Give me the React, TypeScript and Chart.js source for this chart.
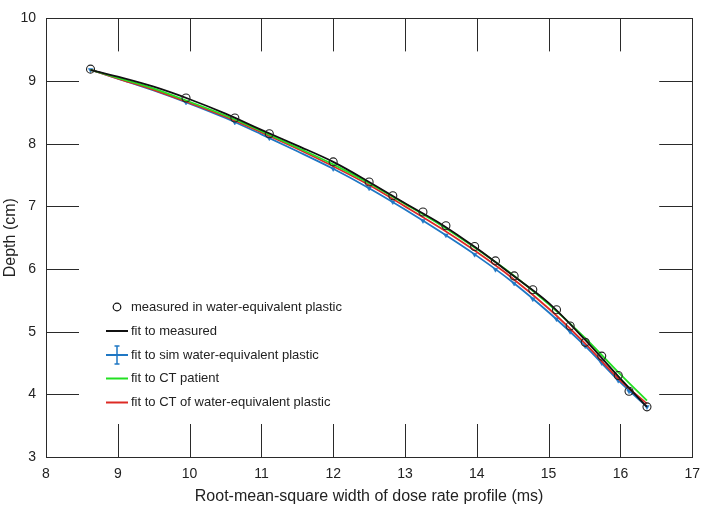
import React, { useEffect, useRef } from "react";
import { Chart, registerables } from "chart.js";

Chart.register(...registerables);

// Measured points (water-equivalent plastic)
const measuredX = [8.62, 9.95, 10.63, 11.11, 12.0, 12.5, 12.83, 13.25, 13.57, 13.97, 14.26, 14.52, 14.78, 15.11, 15.3, 15.51, 15.74, 15.97, 16.12, 16.37];
const measuredY = [9.19, 8.73, 8.41, 8.16, 7.71, 7.39, 7.17, 6.91, 6.69, 6.36, 6.13, 5.89, 5.67, 5.35, 5.09, 4.83, 4.61, 4.3, 4.05, 3.8];

// Fit curves sampled along x
const fitX = [8.62, 9, 9.5, 10, 10.5, 11, 11.5, 12, 12.5, 13, 13.5, 14, 14.5, 15, 15.5, 16, 16.37];
const fitMeasuredY = [9.18, 9.07, 8.91, 8.71, 8.48, 8.22, 7.97, 7.71, 7.39, 7.05, 6.72, 6.33, 5.9, 5.46, 4.88, 4.25, 3.8];
const fitSimY = [9.18, 9.04, 8.85, 8.64, 8.41, 8.15, 7.88, 7.6, 7.29, 6.95, 6.59, 6.21, 5.79, 5.31, 4.78, 4.19, 3.8];
const fitPatientY = [9.18, 9.05, 8.88, 8.67, 8.45, 8.2, 7.94, 7.67, 7.37, 7.04, 6.7, 6.32, 5.91, 5.44, 4.91, 4.32, 3.9];
const fitCtPlasticY = [9.18, 9.04, 8.86, 8.65, 8.43, 8.18, 7.92, 7.64, 7.34, 7.0, 6.65, 6.27, 5.85, 5.37, 4.82, 4.22, 3.85];

// Simulated markers (at measured widths)
const simMarkY = [9.18, 8.66, 8.34, 8.09, 7.6, 7.29, 7.07, 6.77, 6.54, 6.23, 5.99, 5.77, 5.52, 5.2, 5.0, 4.77, 4.5, 4.22, 4.05, 3.8];

const xTickValues = [8, 9, 10, 11, 12, 13, 14, 15, 16, 17];
const yTickValues = [3, 4, 5, 6, 7, 8, 9, 10];

const legendLabels = [
  "measured in water-equivalent plastic",
  "fit to measured",
  "fit to sim water-equivalent plastic",
  "fit to CT patient",
  "fit to CT of water-equivalent plastic",
];

const xTitle = "Root-mean-square width of dose rate profile (ms)";
const yTitle = "Depth (cm)";

const BLUE = "#1f77c4";
const GREEN = "#22e022";
const RED = "#dd2a24";
const BLACK = "#111111";
const FONT = "'Liberation Sans', Arial, Helvetica, sans-serif";

const pts = (xs: number[], ys: number[]) => xs.map((x, i) => ({ x, y: ys[i] }));

const framePlugin = {
  id: "frame",
  afterDraw(chart: any) {
    const { ctx, chartArea: a, scales } = chart;
    const xs = scales.x;
    const ys = scales.y;
    ctx.save();
    ctx.strokeStyle = "#2a2a2a";
    ctx.lineWidth = 1;
    // box
    ctx.strokeRect(Math.round(a.left) + 0.5, Math.round(a.top) + 0.5, Math.round(a.right - a.left), Math.round(a.bottom - a.top));
    const T = 33;
    ctx.beginPath();
    xTickValues.slice(1, -1).forEach((v) => {
      const px = Math.round(xs.getPixelForValue(v)) + 0.5;
      ctx.moveTo(px, a.top);
      ctx.lineTo(px, a.top + T);
      ctx.moveTo(px, a.bottom);
      ctx.lineTo(px, a.bottom - T);
    });
    yTickValues.slice(1, -1).forEach((v) => {
      const py = Math.round(ys.getPixelForValue(v)) + 0.5;
      ctx.moveTo(a.left, py);
      ctx.lineTo(a.left + T, py);
      ctx.moveTo(a.right, py);
      ctx.lineTo(a.right - T, py);
    });
    ctx.stroke();

    // titles
    ctx.fillStyle = "#222";
    ctx.font = `16px ${FONT}`;
    ctx.textAlign = "center";
    ctx.textBaseline = "middle";
    ctx.fillText(xTitle, (a.left + a.right) / 2, 497);
    ctx.save();
    ctx.translate(11, (a.top + a.bottom) / 2);
    ctx.rotate(-Math.PI / 2);
    ctx.fillText(yTitle, 0, 0);
    ctx.restore();

    // legend
    const lx0 = 106, lx1 = 128, tx = 131;
    const rows = [307, 331, 355, 378.5, 402.5];
    ctx.font = `13px ${FONT}`;
    ctx.textAlign = "left";
    ctx.textBaseline = "middle";
    legendLabels.forEach((t, i) => {
      ctx.fillStyle = "#222";
      ctx.fillText(t, tx, rows[i]);
    });
    // circle
    ctx.beginPath();
    ctx.strokeStyle = BLACK;
    ctx.lineWidth = 1.2;
    ctx.arc(117, rows[0], 3.8, 0, Math.PI * 2);
    ctx.stroke();
    // lines
    const drawLine = (y: number, c: string) => {
      ctx.beginPath();
      ctx.strokeStyle = c;
      ctx.lineWidth = 2;
      ctx.moveTo(lx0, y);
      ctx.lineTo(lx1, y);
      ctx.stroke();
    };
    drawLine(rows[1], BLACK);
    drawLine(rows[2], BLUE);
    ctx.beginPath();
    ctx.strokeStyle = BLUE;
    ctx.lineWidth = 1.5;
    ctx.moveTo(117, rows[2] - 9);
    ctx.lineTo(117, rows[2] + 9);
    ctx.moveTo(114.5, rows[2] - 9);
    ctx.lineTo(119.5, rows[2] - 9);
    ctx.moveTo(114.5, rows[2] + 9);
    ctx.lineTo(119.5, rows[2] + 9);
    ctx.stroke();
    drawLine(rows[3], GREEN);
    drawLine(rows[4], RED);
    ctx.restore();
  },
};

export default function App() {
  const ref = useRef<HTMLCanvasElement | null>(null);
  useEffect(() => {
    if (!ref.current) return;
    const lineDs = (label: string, ys: number[], color: string, order: number) => ({
      label,
      data: pts(fitX, ys),
      showLine: true,
      borderColor: color,
      backgroundColor: color,
      borderWidth: 1.8,
      pointRadius: 0,
      cubicInterpolationMode: "monotone" as const,
      order,
    });
    const chart = new Chart(ref.current, {
      type: "scatter",
      data: {
        datasets: [
          {
            label: legendLabels[0],
            data: pts(measuredX, measuredY),
            showLine: false,
            pointRadius: 4,
            pointBorderWidth: 1.1,
            pointBorderColor: "#222",
            pointBackgroundColor: "rgba(0,0,0,0)",
            order: 0,
          },
          lineDs(legendLabels[1], fitMeasuredY, BLACK, 1),
          lineDs(legendLabels[3], fitPatientY, GREEN, 2),
          lineDs(legendLabels[4], fitCtPlasticY, RED, 3),
          lineDs(legendLabels[2], fitSimY, BLUE, 4),
          {
            label: "sim markers",
            data: pts(measuredX, simMarkY),
            showLine: false,
            pointStyle: "triangle",
            rotation: 180,
            pointRadius: 2.6,
            pointBorderWidth: 0.5,
            pointBorderColor: BLUE,
            pointBackgroundColor: BLUE,
            order: 5,
          },
        ],
      },
      options: {
        responsive: false,
        animation: false,
        devicePixelRatio: 1,
        layout: { padding: { top: 8, right: 11, left: 0, bottom: 0 } },
        plugins: { legend: { display: false }, tooltip: { enabled: false } },
        scales: {
          x: {
            type: "linear",
            min: 8,
            max: 17,
            afterFit: (s: any) => {
              s.height = 59;
            },
            afterBuildTicks: (s: any) => {
              s.ticks = xTickValues.map((v) => ({ value: v }));
            },
            grid: { display: false, drawTicks: false },
            border: { display: false },
            ticks: { padding: 9, color: "#222", font: { size: 14, family: FONT }, maxRotation: 0 },
          },
          y: {
            type: "linear",
            min: 3,
            max: 10,
            afterFit: (s: any) => {
              s.width = 46;
            },
            afterBuildTicks: (s: any) => {
              s.ticks = yTickValues.map((v) => ({ value: v }));
            },
            grid: { display: false, drawTicks: false },
            border: { display: false },
            ticks: { padding: 10, color: "#222", font: { size: 14, family: FONT } },
          },
        },
      },
      plugins: [framePlugin],
    });
    return () => chart.destroy();
  }, []);
  return (
    <div style={{ position: "absolute", left: 0, top: 0, width: 709, height: 516, background: "#fff" }}>
      <canvas ref={ref} width={709} height={516} />
    </div>
  );
}
